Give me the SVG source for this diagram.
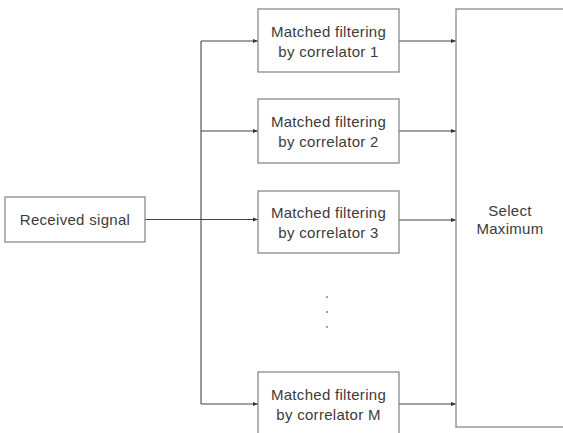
<svg xmlns="http://www.w3.org/2000/svg" width="563" height="433" viewBox="0 0 563 433">
<style>
.box{fill:#fff;stroke:#8a8a8a;stroke-width:1.3}
.ln{fill:none;stroke:#444;stroke-width:1.1}
text{font-family:"Liberation Sans",Arial,sans-serif;font-size:15px;fill:#3c3c3c;text-anchor:middle;letter-spacing:0.3px}
</style>
<defs>
<marker id="ah" viewBox="0 0 10 10" refX="10" refY="5" markerWidth="5" markerHeight="5" orient="auto" markerUnits="userSpaceOnUse">
<path d="M0,1 L10,5 L0,9 Z" fill="#333"/>
</marker>
</defs>
<rect width="563" height="433" fill="#fff"/>
<g id="connectors">
<line class="ln" x1="145" y1="219.5" x2="258" y2="219.5" marker-end="url(#ah)"/>
<line class="ln" x1="201" y1="41" x2="201" y2="404"/>
<line class="ln" x1="201" y1="41" x2="258" y2="41" marker-end="url(#ah)"/>
<line class="ln" x1="201" y1="131" x2="258" y2="131" marker-end="url(#ah)"/>
<line class="ln" x1="201" y1="404" x2="258" y2="404" marker-end="url(#ah)"/>
<line class="ln" x1="399" y1="41" x2="456" y2="41" marker-end="url(#ah)"/>
<line class="ln" x1="399" y1="131" x2="456" y2="131" marker-end="url(#ah)"/>
<line class="ln" x1="399" y1="220" x2="456" y2="220" marker-end="url(#ah)"/>
<line class="ln" x1="399" y1="404" x2="456" y2="404" marker-end="url(#ah)"/>
</g>
<g id="received">
<rect class="box" x="5" y="197" width="140" height="45"/>
<text x="75" y="225">Received signal</text>
</g>
<g id="corr1">
<rect class="box" x="258" y="9" width="141" height="63"/>
<text x="328.5" y="37">Matched filtering</text>
<text x="328.5" y="57">by correlator 1</text>
</g>
<g id="corr2">
<rect class="box" x="258" y="99" width="141" height="64"/>
<text x="328.5" y="127">Matched filtering</text>
<text x="328.5" y="147">by correlator 2</text>
</g>
<g id="corr3">
<rect class="box" x="258" y="191" width="141" height="62"/>
<text x="328.5" y="218">Matched filtering</text>
<text x="328.5" y="238">by correlator 3</text>
</g>
<g id="dots" fill="#777">
<circle cx="327" cy="297" r="0.9"/>
<circle cx="327" cy="312" r="0.9"/>
<circle cx="327" cy="327" r="0.9"/>
</g>
<g id="corrM">
<rect class="box" x="258" y="372" width="141" height="70"/>
<text x="328.5" y="400">Matched filtering</text>
<text x="328.5" y="420">by correlator M</text>
</g>
<g id="select">
<rect class="box" x="456" y="9" width="120" height="418"/>
<text x="510" y="216">Select</text>
<text x="510" y="234">Maximum</text>
</g>
</svg>
